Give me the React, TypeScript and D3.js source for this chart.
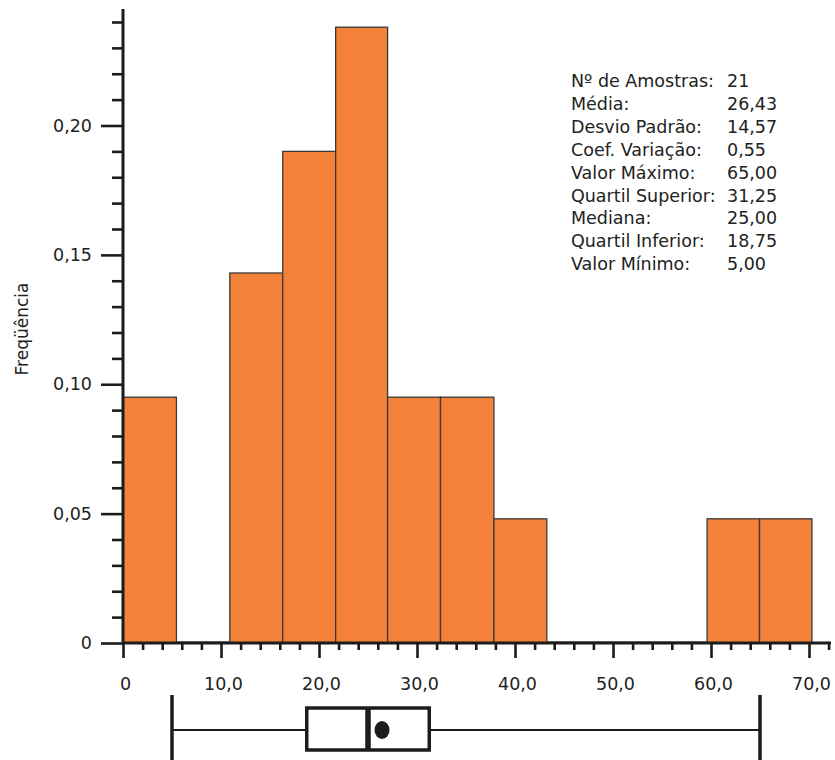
import React, { useEffect, useRef } from 'react'
import * as d3 from 'd3'

// histogram bins (edges in x units) and relative frequencies
const binEdges = [0, 5.45, 10.9, 16.3, 21.7, 27.0, 32.4, 37.85, 43.25, 48.7, 54.1, 59.6, 64.95, 70.3]
const freqs = [0.095, 0, 0.143, 0.19, 0.238, 0.095, 0.095, 0.048, 0, 0, 0, 0.048, 0.048]

const xTicks = [0, 10, 20, 30, 40, 50, 60, 70]
const yTicks = [0, 0.05, 0.1, 0.15, 0.2]

const statLabels = [
  'Nº de Amostras:',
  'Média:',
  'Desvio Padrão:',
  'Coef. Variação:',
  'Valor Máximo:',
  'Quartil Superior:',
  'Mediana:',
  'Quartil Inferior:',
  'Valor Mínimo:',
]
const statValues = [21, 26.43, 14.57, 0.55, 65.0, 31.25, 25.0, 18.75, 5.0]

const W = 835
const H = 760
const FONT = '"DejaVu Sans", Verdana, sans-serif'
const INK = '#1c1c1c'

const App = () => {
  const ref = useRef<SVGSVGElement>(null)

  useEffect(() => {
    const svg = d3.select(ref.current)
    svg.selectAll('*').remove()

    const x = d3.scaleLinear().domain([0, 70]).range([123, 809])
    const y = d3.scaleLinear().domain([0, 0.24]).range([643, 22])
    const comma = (s: string) => s.replace('.', ',')

    // bars
    const bars = freqs.map((f, i) => ({ x0: binEdges[i], x1: binEdges[i + 1], f }))
    svg.append('g')
      .selectAll('line')
      .data(bars.filter(d => d.f === 0))
      .join('line')
      .attr('x1', d => x(d.x0)).attr('x2', d => x(d.x1))
      .attr('y1', y(0) - 1).attr('y2', y(0) - 1)
      .attr('stroke', '#9a9a9a').attr('stroke-width', 2)

    svg.append('g')
      .selectAll('rect')
      .data(bars.filter(d => d.f > 0))
      .join('rect')
      .attr('x', d => x(d.x0))
      .attr('y', d => y(d.f))
      .attr('width', d => x(d.x1) - x(d.x0))
      .attr('height', d => y(0) - y(d.f))
      .attr('fill', '#f48139')
      .attr('stroke', '#3a3a3a')
      .attr('stroke-width', 1.3)

    // y axis
    const yMinor = d3.range(0, 0.2401, 0.01).filter(v => Math.abs(v * 20 - Math.round(v * 20)) > 1e-6)
    const yMinorAxis = svg.append('g')
      .attr('transform', `translate(123,0)`)
      .call(d3.axisLeft(y).tickValues(yMinor).tickSize(11).tickFormat(() => ''))
    const yMajorAxis = svg.append('g')
      .attr('transform', `translate(123,0)`)
      .call(d3.axisLeft(y).tickValues(yTicks).tickSize(22).tickPadding(9)
        .tickFormat(d => (+d === 0 ? '0' : comma(d3.format('.2f')(+d)))))

    // x axis
    const xMinor = d3.range(0, 73, 2).filter(v => v % 10 !== 0)
    const xMinorAxis = svg.append('g')
      .attr('transform', `translate(0,643)`)
      .call(d3.axisBottom(x).tickValues(xMinor).tickSize(7).tickFormat(() => ''))
    const xMajorAxis = svg.append('g')
      .attr('transform', `translate(0,643)`)
      .call(d3.axisBottom(x).tickValues(xTicks).tickSize(15).tickPadding(20)
        .tickFormat(d => (+d === 0 ? '0' : comma(d3.format('.1f')(+d)))))
    xMajorAxis.selectAll('text').attr('dx', 2)

    for (const g of [yMinorAxis, yMajorAxis, xMinorAxis, xMajorAxis]) {
      g.select('.domain').remove()
      g.selectAll('line').attr('stroke', INK).attr('stroke-width', 2.6)
      g.selectAll('text').attr('fill', '#222').style('font-family', FONT).style('font-size', '17.5px')
    }

    // axis lines
    svg.append('line')
      .attr('x1', 123).attr('x2', 123).attr('y1', 9).attr('y2', 644)
      .attr('stroke', INK).attr('stroke-width', 3)
    svg.append('line')
      .attr('x1', 122).attr('x2', 831).attr('y1', 643).attr('y2', 643)
      .attr('stroke', INK).attr('stroke-width', 3)

    // y label
    svg.append('text')
      .attr('transform', 'translate(28,329) rotate(-90)')
      .attr('text-anchor', 'middle')
      .style('font-family', FONT)
      .style('font-size', '17px')
      .attr('fill', '#222')
      .text('Freqüência')

    // statistics block
    const stats = svg.append('g')
      .style('font-family', FONT)
      .style('font-size', '17.5px')
      .attr('fill', '#222')
    stats.selectAll('text.lab')
      .data(statLabels)
      .join('text')
      .attr('class', 'lab')
      .attr('x', 571)
      .attr('y', (_, i) => 87 + i * 22.9)
      .text(d => d)
    stats.selectAll('text.val')
      .data(statValues)
      .join('text')
      .attr('class', 'val')
      .attr('x', 727)
      .attr('y', (_, i) => 87 + i * 22.9)
      .text((d, i) => (i === 0 ? String(d) : comma(d3.format('.2f')(d))))

    // box plot
    const [, mean, , , vmax, q3, med, q1, vmin] = statValues
    const cy = 730
    const bp = svg.append('g').attr('stroke', INK).attr('fill', 'none')
    bp.append('line').attr('x1', x(vmin)).attr('x2', x(q1)).attr('y1', cy).attr('y2', cy).attr('stroke-width', 2)
    bp.append('line').attr('x1', x(q3)).attr('x2', x(vmax)).attr('y1', cy).attr('y2', cy).attr('stroke-width', 2)
    for (const v of [vmin, vmax]) {
      bp.append('line').attr('x1', x(v)).attr('x2', x(v)).attr('y1', 695).attr('y2', 762).attr('stroke-width', 3.5)
    }
    bp.append('rect')
      .attr('x', x(q1)).attr('y', 708)
      .attr('width', x(q3) - x(q1)).attr('height', 42)
      .attr('fill', '#fff').attr('stroke-width', 3.5)
    bp.append('line').attr('x1', x(med)).attr('x2', x(med)).attr('y1', 708).attr('y2', 750).attr('stroke-width', 5.5)
    bp.append('ellipse')
      .attr('cx', x(mean)).attr('cy', cy)
      .attr('rx', 7.5).attr('ry', 9)
      .attr('fill', INK).attr('stroke', 'none')
  }, [])

  return (
    <svg
      ref={ref}
      width={W}
      height={H}
      style={{ position: 'absolute', left: 0, top: 0, background: '#fff' }}
    />
  )
}

export default App
